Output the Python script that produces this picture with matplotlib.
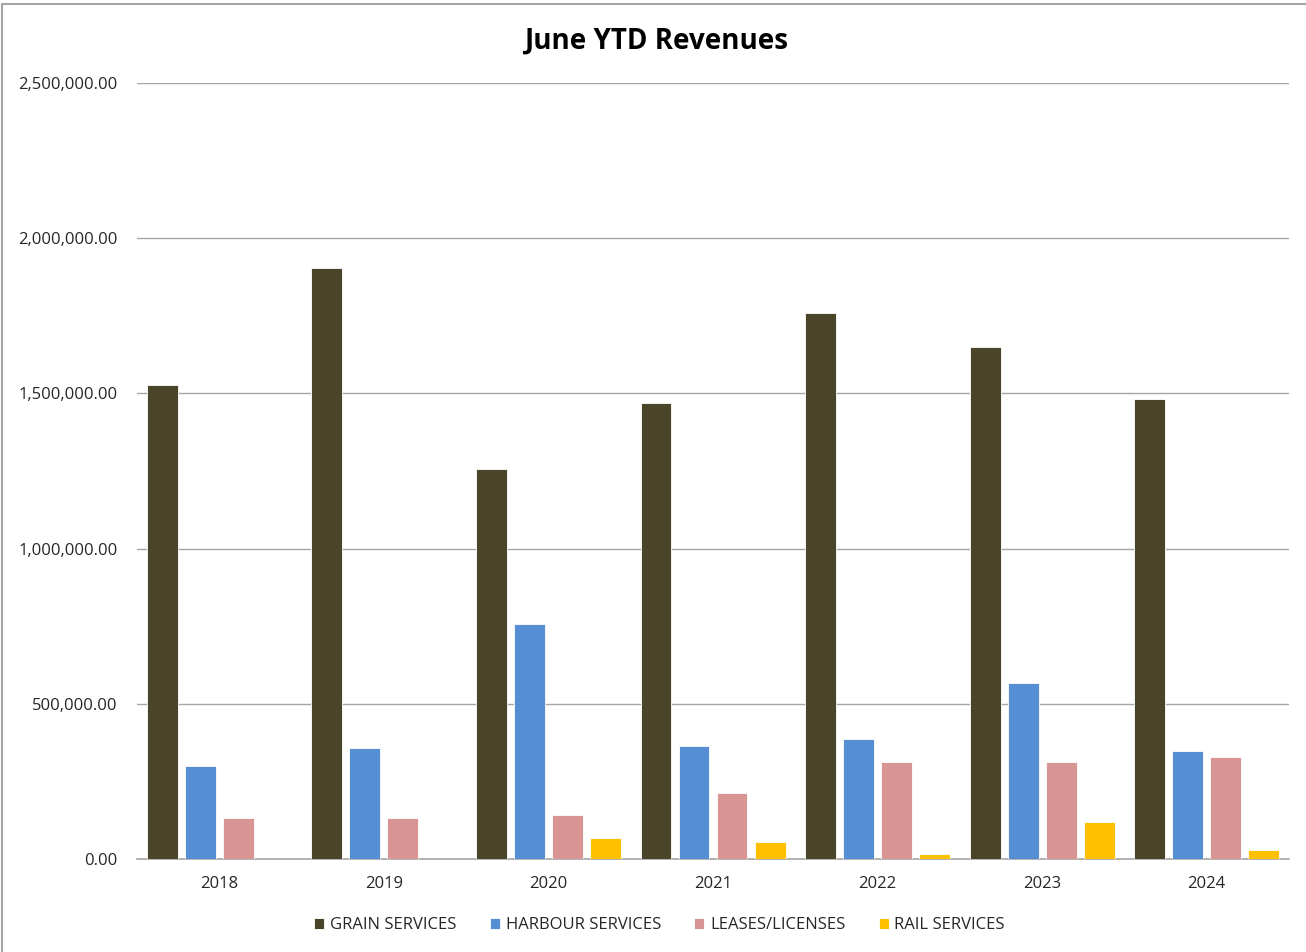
import matplotlib
matplotlib.use('Agg')
import matplotlib.pyplot as plt
from matplotlib.patches import Rectangle
from matplotlib.ticker import FuncFormatter
import numpy as np

years = ['2018', '2019', '2020', '2021', '2022', '2023', '2024']
series = ['GRAIN SERVICES', 'HARBOUR SERVICES', 'LEASES/LICENSES', 'RAIL SERVICES']
grain = [1527000, 1904000, 1256000, 1469000, 1759000, 1649000, 1482000]
harbour = [299600, 357600, 757000, 364000, 386600, 567000, 348000]
leases = [132000, 132000, 141800, 212600, 312500, 312500, 328600]
rail = [0, 0, 67700, 54800, 16000, 119000, 29000]
colors = ['#4A4429', '#558ED5', '#D99594', '#FFC000']

plt.rcParams['font.family'] = ['Open Sans', 'DejaVu Sans']

fig = plt.figure(figsize=(13.06, 9.52), dpi=100)
ax = fig.add_axes([0.1049, 0.0977, 0.8821, 0.8151])

# grey frame: only left and top edges fall inside the picture
fig.patches.append(Rectangle((0.0015, -0.01), 1.05, 1.0055, transform=fig.transFigure,
                             fill=False, edgecolor='#A6A6A6', lw=1.5))

x = np.arange(len(years))
width = 0.188
pitch = 0.231
for k, (vals, name) in enumerate(zip([grain, harbour, leases, rail], series)):
    ax.bar(x + (k - 1.5) * pitch, vals, width, color=colors[k], label=name,
           edgecolor='white', linewidth=0.6, zorder=3)

ax.set_xlim(-0.5, len(years) - 0.5)
ax.set_ylim(0, 2500000)
ax.set_yticks(np.arange(0, 2500001, 500000))
ax.yaxis.set_major_formatter(FuncFormatter(lambda v, p: f'{v:,.2f}'))
ax.set_xticks(x)
ax.set_xticklabels(years)
ax.grid(axis='y', color='#A6A6A6', lw=1, zorder=0)
for s in ['top', 'right', 'left']:
    ax.spines[s].set_visible(False)
ax.spines['bottom'].set_color('#A6A6A6')
ax.spines['bottom'].set_linewidth(1.2)
ax.tick_params(axis='both', length=0, labelsize=12, colors='#262626')
ax.tick_params(axis='y', pad=14)
ax.tick_params(axis='x', pad=12)

fig.text(0.502, 0.957, 'June YTD Revenues', ha='center', va='center',
         fontsize=20, fontweight='bold', color='black')

fig.legend(loc='center', bbox_to_anchor=(0.505, 0.028), ncol=4, frameon=False,
           fontsize=12, handlelength=0.6, handleheight=0.6, handletextpad=0.35,
           columnspacing=2.0, labelcolor='#262626')

fig.savefig('out.png', dpi=100)
